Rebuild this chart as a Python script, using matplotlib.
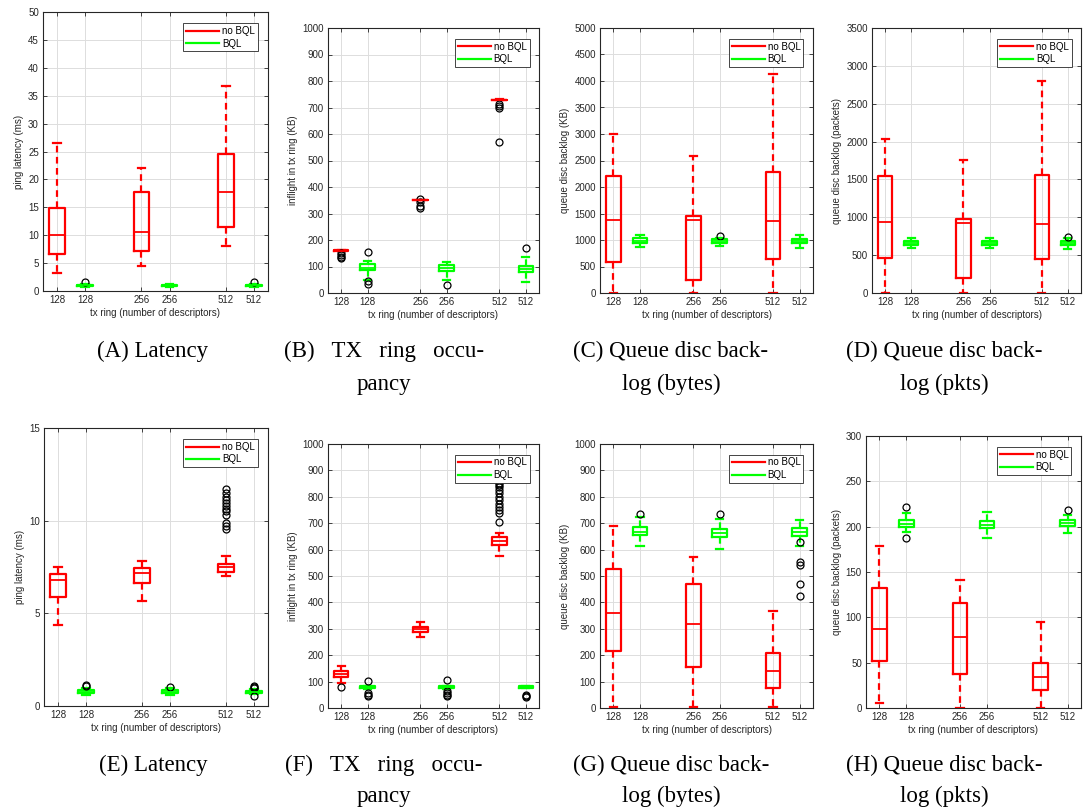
import matplotlib.pyplot as plt
from matplotlib.lines import Line2D

positions = [1, 2, 4, 5, 7, 8]
tick_labels = ["128", "128", "256", "256", "512", "512"]
series = ["no BQL", "BQL"]
colors = {"no BQL": "#ff0000", "BQL": "#00ff00"}

# each box: [whisker low, q1, median, q3, whisker high]
# order: 128 no BQL, 128 BQL, 256 no BQL, 256 BQL, 512 no BQL, 512 BQL
lat_a = [[3.3, 6.7, 10.0, 14.9, 26.5], [0.75, 0.9, 1.0, 1.1, 1.25],
         [4.4, 7.1, 10.6, 17.8, 22.0], [0.75, 0.9, 1.0, 1.1, 1.25],
         [8.0, 11.4, 17.7, 24.5, 36.8], [0.75, 0.9, 1.0, 1.1, 1.25]]
lat_a_out = [[], [1.6], [], [], [], [1.6]]

ring_b = [[160, 160, 160, 161, 162], [50, 86, 96, 111, 121],
          [350, 350, 350, 351, 352], [48, 83, 96, 107, 117],
          [729, 729, 729, 730, 731], [42, 78, 91, 102, 134]]
ring_b_out = [[152, 145, 137, 131], [153, 45, 33], [355, 345, 330, 320],
              [29], [712, 705, 698, 570], [170]]

qb_c = [[0, 586, 1375, 2213, 3002], [870, 950, 985, 1030, 1090],
        [0, 252, 1375, 1450, 2592], [890, 950, 985, 1010, 1040],
        [0, 650, 1356, 2289, 4124], [850, 950, 980, 1020, 1095]]
qb_c_out = [[], [], [], [1080], [], []]

qp_d = [[0, 468, 940, 1549, 2035], [590, 630, 660, 690, 733],
        [0, 203, 927, 980, 1752], [600, 630, 660, 685, 720],
        [0, 446, 914, 1558, 2794], [580, 630, 660, 685, 720]]
qp_d_out = [[], [], [], [], [], [746]]

lat_e = [[4.37, 5.87, 6.79, 7.13, 7.49], [0.6, 0.7, 0.78, 0.85, 0.95],
         [5.66, 6.66, 7.15, 7.45, 7.81], [0.6, 0.7, 0.78, 0.85, 0.95],
         [7.02, 7.24, 7.51, 7.65, 8.12], [0.65, 0.7, 0.77, 0.82, 0.9]]
lat_e_out = [[], [1.1, 1.15], [], [1.05],
             [11.7, 11.5, 11.3, 11.1, 10.95, 10.8, 10.65, 10.5, 10.3, 9.85, 9.7, 9.55],
             [1.1, 1.0, 0.95, 0.55]]

ring_f = [[95, 116, 130, 142, 160], [72, 76, 80, 82, 84],
          [269, 287, 299, 308, 324], [72, 76, 80, 82, 84],
          [574, 618, 632, 646, 662], [74, 77, 80, 82, 84]]
ring_f_out = [[81], [102, 55, 50, 45], [], [107, 65, 55, 50, 45],
              [706, 738, 750, 763, 772, 788, 801, 813, 826, 836, 845, 854],
              [50, 45, 40]]

qb_g = [[5, 217, 358, 528, 690], [614, 655, 665, 685, 725],
        [5, 155, 318, 470, 573], [603, 646, 663, 677, 715],
        [5, 77, 141, 208, 366], [614, 652, 665, 680, 713]]
qb_g_out = [[], [735], [], [735], [], [630, 554, 541, 469, 424]]

qp_h = [[5, 52, 87, 132, 179], [194, 200, 203, 207, 215],
        [0, 38, 78, 116, 141], [188, 198, 202, 206, 216],
        [0, 19.5, 34, 50, 94.6], [193, 201, 204, 207, 213]]
qp_h_out = [[], [222, 188], [], [], [], [218]]

ylabels = ["ping latency (ms)", "inflight in tx ring (KB)",
           "queue disc backlog (KB)", "queue disc backlog (packets)"]
captions_top = ["(A) Latency", "(B)   TX   ring   occu-\npancy",
                "(C) Queue disc back-\nlog (bytes)", "(D) Queue disc back-\nlog (pkts)"]
captions_bot = ["(E) Latency", "(F)   TX   ring   occu-\npancy",
                "(G) Queue disc back-\nlog (bytes)", "(H) Queue disc back-\nlog (pkts)"]

W, H = 1083, 810


def rect(left, right, top, bottom):
    return [left / W, 1 - bottom / H, (right - left) / W, (bottom - top) / H]


def draw_panel(fig, box, stats, outliers, ymax, ystep, ylabel):
    ax = fig.add_axes(box)
    for k, name in enumerate(series):
        idx = [i for i in range(6) if i % 2 == k]
        bx = []
        for i in idx:
            lo, q1, med, q3, hi = stats[i]
            bx.append(dict(whislo=lo, q1=q1, med=med, q3=q3, whishi=hi,
                           fliers=outliers[i]))
        c = colors[name]
        ax.bxp(bx, positions=[positions[i] for i in idx], widths=0.55,
               capwidths=0.27, manage_ticks=False,
               boxprops=dict(color=c, lw=1.6),
               whiskerprops=dict(color=c, lw=1.6, linestyle=(0, (3, 2))),
               capprops=dict(color=c, lw=1.6),
               medianprops=dict(color=c, lw=1.3),
               flierprops=dict(marker="o", markerfacecolor="none",
                               markeredgecolor="black", markersize=5,
                               markeredgewidth=0.9))
    ax.set_xlim(0.5, 8.5)
    ax.set_ylim(0, ymax)
    ax.set_yticks(range(0, int(ymax) + 1, ystep))
    ax.set_xticks(positions)
    ax.set_xticklabels(tick_labels)
    ax.grid(True, color="#dddddd", lw=0.7)
    ax.set_axisbelow(True)
    ax.tick_params(direction="in", length=3, top=True, right=True,
                   labelsize=7, colors="#262626", width=0.6, pad=3)
    for s in ax.spines.values():
        s.set_color("#262626")
        s.set_linewidth(0.8)
    ax.set_ylabel(ylabel, fontsize=7, color="#262626", labelpad=3)
    ax.set_xlabel("tx ring (number of descriptors)", fontsize=7,
                  color="#262626", labelpad=2)
    handles = [Line2D([], [], color=colors[n], lw=1.6) for n in series]
    leg = ax.legend(handles, series, loc="upper right", fontsize=7,
                    handlelength=3.4, handletextpad=0.3, borderpad=0.3,
                    labelspacing=0.25, fancybox=False, framealpha=1,
                    bbox_to_anchor=(0.955, 0.96), borderaxespad=0)
    leg.get_frame().set_edgecolor("#262626")
    leg.get_frame().set_linewidth(0.6)
    return ax


def main():
    plt.rcParams["font.family"] = ["Liberation Sans", "DejaVu Sans"]
    fig = plt.figure(figsize=(10.83, 8.1), dpi=100)

    top_rects = [rect(43, 268, 12, 291), rect(328, 539, 28, 293),
                 rect(600, 813, 28, 293), rect(872, 1081, 28, 293)]
    bot_rects = [rect(44, 268, 428, 706), rect(328, 539, 444, 708),
                 rect(600, 813, 444, 708), rect(866, 1081, 436, 708)]

    top = [(lat_a, lat_a_out, 50, 5), (ring_b, ring_b_out, 1000, 100),
           (qb_c, qb_c_out, 5000, 500), (qp_d, qp_d_out, 3500, 500)]
    bot = [(lat_e, lat_e_out, 15, 5), (ring_f, ring_f_out, 1000, 100),
           (qb_g, qb_g_out, 1000, 100), (qp_h, qp_h_out, 300, 50)]

    for i in range(4):
        draw_panel(fig, top_rects[i], *top[i], ylabels[i])
        draw_panel(fig, bot_rects[i], *bot[i], ylabels[i])

    cap_x = [153, 384, 671, 944]
    for i in range(4):
        fig.text(cap_x[i] / W, 1 - 341 / H, captions_top[i], ha="center",
                 va="top", family="Liberation Serif", fontsize=16.5,
                 linespacing=1.75)
        fig.text(cap_x[i] / W, 1 - 755 / H, captions_bot[i], ha="center",
                 va="top", family="Liberation Serif", fontsize=16.5,
                 linespacing=1.62)

    fig.savefig("out.png", dpi=100)


if __name__ == "__main__":
    main()
